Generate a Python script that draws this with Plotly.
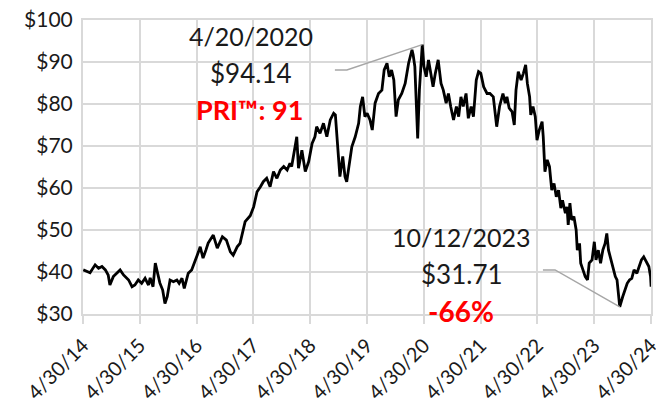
import pandas as pd
import plotly.graph_objects as go

# Decimal-year time coordinates and prices
t_years = [
    2014.33, 2014.39, 2014.45, 2014.54, 2014.60, 2014.66, 2014.72, 2014.77, 2014.80, 2014.86,
    2014.92, 2014.98, 2015.04, 2015.13, 2015.19, 2015.24, 2015.30, 2015.36, 2015.42, 2015.48,
    2015.51, 2015.56, 2015.60, 2015.64, 2015.68, 2015.73, 2015.77, 2015.81, 2015.86, 2015.92,
    2015.98, 2016.02, 2016.07, 2016.11, 2016.14, 2016.18, 2016.24, 2016.30, 2016.36, 2016.39,
    2016.44, 2016.49, 2016.53, 2016.62, 2016.69, 2016.78, 2016.85, 2016.92, 2016.97, 2017.04,
    2017.09, 2017.18, 2017.27, 2017.33, 2017.39, 2017.45, 2017.50, 2017.56, 2017.62, 2017.68,
    2017.74, 2017.80, 2017.86, 2017.92, 2017.97, 2018.00, 2018.06, 2018.09, 2018.12, 2018.18,
    2018.24, 2018.30, 2018.36, 2018.41, 2018.44, 2018.50, 2018.56, 2018.62, 2018.68, 2018.74,
    2018.77, 2018.82, 2018.85, 2018.90, 2018.94, 2018.97, 2019.02, 2019.06, 2019.12, 2019.18,
    2019.21, 2019.25, 2019.29, 2019.33, 2019.38, 2019.42, 2019.47, 2019.53, 2019.59, 2019.63,
    2019.68, 2019.72, 2019.76, 2019.80, 2019.84, 2019.88, 2019.94, 2020.00, 2020.06, 2020.12,
    2020.14, 2020.17, 2020.22, 2020.25, 2020.30, 2020.33, 2020.37, 2020.41, 2020.45, 2020.49,
    2020.53, 2020.58, 2020.63, 2020.67, 2020.72, 2020.76, 2020.80, 2020.85, 2020.90, 2020.94,
    2020.98, 2021.02, 2021.07, 2021.11, 2021.16, 2021.20, 2021.25, 2021.29, 2021.33, 2021.38,
    2021.44, 2021.49, 2021.55, 2021.61, 2021.66, 2021.72, 2021.76, 2021.79, 2021.83, 2021.88,
    2021.92, 2021.95, 2021.99, 2022.04, 2022.08, 2022.12, 2022.15, 2022.19, 2022.21, 2022.25,
    2022.29, 2022.32, 2022.36, 2022.41, 2022.43, 2022.46, 2022.50, 2022.54, 2022.58, 2022.62,
    2022.66, 2022.70, 2022.74, 2022.77, 2022.82, 2022.85, 2022.87, 2022.90, 2022.93, 2022.97,
    2023.01, 2023.03, 2023.07, 2023.09, 2023.13, 2023.17, 2023.21, 2023.24, 2023.29, 2023.33,
    2023.36, 2023.40, 2023.44, 2023.48, 2023.52, 2023.55, 2023.58, 2023.62, 2023.67, 2023.70,
    2023.73, 2023.75, 2023.78, 2023.83, 2023.87, 2023.91, 2023.95, 2023.99, 2024.03, 2024.08,
    2024.12, 2024.16, 2024.20, 2024.25, 2024.29, 2024.32, 2024.33,
]
prices = [
    40.5, 40.1, 39.8, 41.7, 40.9, 41.3, 40.5, 39.3, 36.9, 38.9,
    39.7, 40.5, 39.3, 38.1, 36.5, 36.9, 38.1, 37.3, 38.5, 36.9,
    38.6, 36.5, 42.1, 39.7, 37.4, 35.7, 32.5, 34.1, 38.1, 37.7,
    38.1, 37.3, 38.5, 36.1, 37.7, 39.7, 40.5, 42.5, 44.8, 46.0,
    43.3, 45.2, 46.9, 48.8, 45.7, 48.4, 47.6, 44.8, 44.0, 46.0,
    46.8, 52.0, 53.4, 55.5, 59.1, 60.3, 61.5, 62.3, 60.3, 63.9,
    62.3, 64.3, 65.1, 64.3, 65.9, 65.1, 69.8, 72.2, 64.7, 69.0,
    63.9, 66.3, 70.6, 72.2, 74.6, 73.0, 75.4, 72.2, 76.2, 77.8,
    77.4, 69.0, 62.7, 67.5, 62.7, 61.5, 66.7, 69.8, 72.2, 75.4,
    79.4, 81.7, 77.0, 77.8, 76.2, 73.8, 80.2, 82.5, 83.3, 88.1,
    89.7, 86.5, 88.1, 85.7, 77.0, 81.0, 82.5, 84.9, 89.7, 92.9,
    91.7, 88.9, 71.8, 83.3, 94.14, 88.9, 86.5, 90.5, 87.3, 84.1,
    87.3, 90.5, 84.9, 83.3, 80.2, 82.5, 79.4, 76.2, 79.4, 77.0,
    81.7, 79.4, 82.5, 76.6, 79.4, 77.0, 85.7, 87.7, 87.3, 84.1,
    82.5, 82.5, 81.7, 74.6, 79.4, 82.5, 80.2, 81.7, 79.0, 78.2,
    75.0, 83.3, 87.7, 85.7, 87.3, 89.3, 84.9, 81.7, 77.4, 79.4,
    77.0, 71.4, 73.8, 75.8, 72.2, 63.9, 66.7, 65.1, 59.5, 61.1,
    57.9, 59.5, 55.2, 57.1, 54.0, 55.5, 51.2, 56.4, 52.4, 53.2,
    50.0, 45.2, 46.8, 42.1, 40.5, 38.9, 38.1, 42.1, 42.9, 47.2,
    42.9, 45.2, 42.1, 45.2, 46.8, 49.2, 45.2, 42.9, 40.5, 38.9,
    38.1, 35.7, 31.71, 34.1, 35.7, 37.3, 38.1, 38.5, 40.5, 39.7,
    41.3, 42.9, 43.6, 42.1, 41.3, 38.9, 36.5,
]

tick_dates = ["2014-04-30", "2015-04-30", "2016-04-30", "2017-04-30", "2018-04-30",
              "2019-04-30", "2020-04-30", "2021-04-30", "2022-04-30", "2023-04-30", "2024-04-30"]
tick_labels = ["4/30/14", "4/30/15", "4/30/16", "4/30/17", "4/30/18",
               "4/30/19", "4/30/20", "4/30/21", "4/30/22", "4/30/23", "4/30/24"]
y_ticks = [30, 40, 50, 60, 70, 80, 90, 100]
y_labels = ["$30", "$40", "$50", "$60", "$70", "$80", "$90", "$100"]

peak_date, peak_price = "2020-04-20", 94.14
low_date, low_price = "2023-10-12", 31.71


def to_date(t):
    y = int(t)
    start = pd.Timestamp(year=y, month=1, day=1)
    days = (pd.Timestamp(year=y + 1, month=1, day=1) - start).days
    return start + pd.Timedelta(days=(t - y) * days)


dates = [to_date(t) for t in t_years]
dates[prices.index(peak_price)] = pd.Timestamp(peak_date)
dates[prices.index(low_price)] = pd.Timestamp(low_date)

FONT = "Lato"
GRID = "#d9d9d9"
TXT = "#1a1a1a"

fig = go.Figure()
fig.add_trace(go.Scatter(x=dates, y=prices, mode="lines",
                         line=dict(color="black", width=2.8), hoverinfo="skip"))

# leader lines
fig.add_trace(go.Scatter(x=["2018-10-06", "2018-12-22", peak_date], y=[88.1, 88.1, peak_price],
                         mode="lines", line=dict(color="#a6a6a6", width=1.5), hoverinfo="skip"))
fig.add_trace(go.Scatter(x=["2022-06-05", "2022-08-22", low_date], y=[40.5, 40.5, low_price],
                         mode="lines", line=dict(color="#a6a6a6", width=1.5), hoverinfo="skip"))

ann = [
    (0.296, 0.946, "4/20/2020", TXT, False, 25),
    (0.296, 0.820, "$94.14", TXT, False, 26),
    (0.294, 0.697, "PRI™: 91", "#ff0000", True, 27),
    (0.667, 0.262, "10/12/2023", TXT, False, 25),
    (0.667, 0.136, "$31.71", TXT, False, 26),
    (0.665, 0.010, "-66%", "#ff0000", True, 28),
]
for x, y, txt, col, bold, size in ann:
    fig.add_annotation(x=x, y=y, xref="paper", yref="paper", text=f"<b>{txt}</b>" if bold else txt,
                       showarrow=False, xanchor="center", yanchor="middle",
                       font=dict(family=FONT, size=size, color=col))

fig.update_layout(
    width=656, height=406,
    margin=dict(l=83, r=5, t=20, b=92, autoexpand=False),
    paper_bgcolor="white", plot_bgcolor="white",
    showlegend=False,
    font=dict(family=FONT, size=21, color=TXT),
    xaxis=dict(type="date", range=["2014-04-30", "2024-04-30"], tickvals=tick_dates, ticktext=tick_labels,
               tickangle=-45, showgrid=True, gridcolor=GRID, gridwidth=2,
               ticks="outside", ticklen=8, tickcolor=GRID, tickwidth=2,
               showline=True, linecolor=GRID, linewidth=2, mirror=True, zeroline=False,
               ticklabeloverflow="allow", ticklabelstandoff=2,
               tickfont=dict(family=FONT, size=20, color=TXT)),
    yaxis=dict(range=[30, 100], tickvals=y_ticks, ticktext=y_labels, showgrid=True, gridcolor=GRID,
               gridwidth=2, ticks="", showline=True, linecolor=GRID, linewidth=2, mirror=True,
               zeroline=False, ticklabelstandoff=4, ticklabeloverflow="allow",
               tickfont=dict(family=FONT, size=21, color=TXT)),
)

fig.write_html("out.html", config={"displayModeBar": False},
               post_script="document.body.style.margin='0';document.body.style.overflow='hidden';")
